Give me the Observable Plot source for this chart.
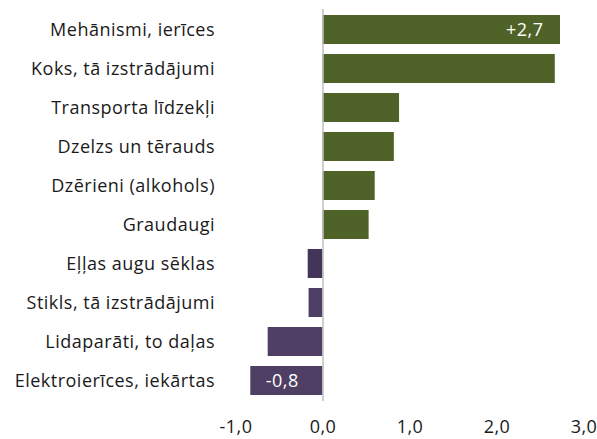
<!DOCTYPE html>
<html>
<head>
<meta charset="utf-8">
<script src="https://cdn.jsdelivr.net/npm/d3@7"></script>
<script src="https://cdn.jsdelivr.net/npm/@observablehq/plot@0.6"></script>
<style>
  html, body { margin: 0; padding: 0; background: #fff; }
  #chart svg { display: block; }
  #chart svg text { letter-spacing: 0.5px; }
</style>
</head>
<body>
<div id="chart"></div>
<script>
const categories = [
  "Mehānismi, ierīces",
  "Koks, tā izstrādājumi",
  "Transporta līdzekļi",
  "Dzelzs un tērauds",
  "Dzērieni (alkohols)",
  "Graudaugi",
  "Eļļas augu sēklas",
  "Stikls, tā izstrādājumi",
  "Lidaparāti, to daļas",
  "Elektroierīces, iekārtas"
];
const values = [2.73, 2.67, 0.88, 0.82, 0.60, 0.53, -0.17, -0.16, -0.63, -0.83];
const valueLabels = ["+2,7", "", "", "", "", "", "", "", "", "-0,8"];
const xTicks = [-1, 0, 1, 2, 3];

const data = categories.map((c, i) => ({category: c, value: values[i], label: valueLabels[i]}));
const GREEN = "#4f6228", PURPLE = "#4f3f64", PURPLE_DARK = "#43355a";
const fillOf = d => d.value >= 0 ? GREEN : (d.category === "Eļļas augu sēklas" ? PURPLE_DARK : PURPLE);
const fmt = v => v.toFixed(1).replace(".", ",");
const FONT = "Open Sans, sans-serif";

const chart = Plot.plot({
  width: 597,
  height: 439,
  marginLeft: 235.5,
  marginRight: 13.5,
  marginTop: 9,
  marginBottom: 38,
  style: {fontFamily: FONT, fontSize: "18px", color: "#1a1a1a", background: "#fff"},
  x: {domain: [-1, 3]},
  y: {domain: categories, paddingInner: 0.26, paddingOuter: 0.13},
  marks: [
    Plot.barX(data, {x: "value", y: "category", fill: fillOf}),
    Plot.ruleX([0], {stroke: "#bfbfbf", strokeWidth: 1.5}),
    Plot.text(data.filter(d => d.label && d.value > 0), {x: "value", y: "category", text: "label", textAnchor: "end", dx: -17, fill: "#fff", fontSize: 18, fontFamily: FONT}),
    Plot.text(data.filter(d => d.label && d.value < 0), {x: "value", y: "category", text: "label", textAnchor: "start", dx: 15, fill: "#fff", fontSize: 18, fontFamily: FONT}),
    Plot.axisY({tickSize: 0, tickPadding: 21, label: null, fontSize: 18, fontFamily: FONT, fill: "#1a1a1a"}),
    Plot.axisX({ticks: xTicks, tickFormat: fmt, tickSize: 0, tickPadding: 19, label: null, fontSize: 18, fontFamily: FONT, fill: "#1a1a1a"})
  ]
});
document.getElementById("chart").appendChild(chart);
</script>
</body>
</html>
